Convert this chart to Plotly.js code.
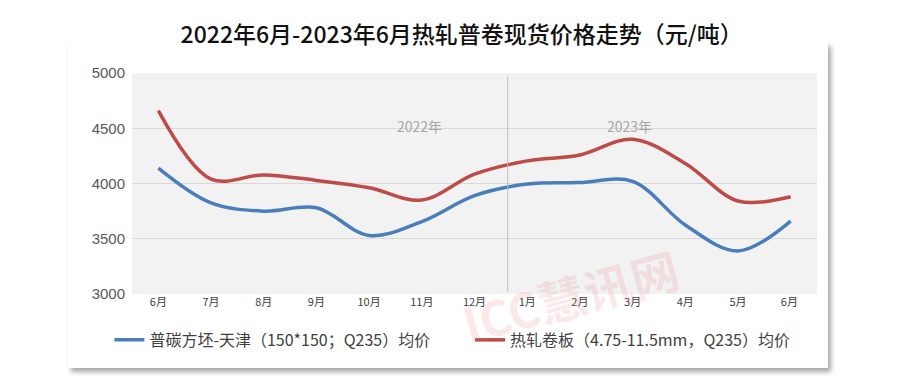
<!DOCTYPE html>
<html><head><meta charset="utf-8">
<script src="https://cdn.plot.ly/plotly-3.0.1.min.js"></script>
<style>
html,body{margin:0;padding:0;background:#fff;}
#wrap{position:relative;width:900px;height:385px;}
#box{position:absolute;left:68px;top:42px;width:760px;height:326px;background:#fff;box-shadow:3px 4px 5px rgba(0,0,0,0.35);}
#chart{position:absolute;left:0;top:0;width:900px;height:385px;}
</style></head>
<body><div id="wrap"><div id="box"></div><div id="chart"></div></div>
<script>
const months = ['6月','7月','8月','9月','10月','11月','12月','1月','2月','3月','4月','5月','6月 '];
const billetTianjin = [4140, 3825, 3750, 3780, 3530, 3655, 3890, 3995, 4008, 4020, 3625, 3390, 3660];
const hotRolledCoil = [4660, 4040, 4078, 4028, 3962, 3850, 4084, 4205, 4258, 4400, 4182, 3842, 3880];
const seriesNames = ['普碳方坯-天津（150*150；Q235）均价', '热轧卷板（4.75-11.5mm，Q235）均价'];
const yearLabels = ['2022年', '2023年'];
const font = '"Noto Sans CJK SC", "Noto Sans", sans-serif';

const traces = [
  {x: months, y: billetTianjin, name: seriesNames[0], type: 'scatter', mode: 'lines', legend: 'legend',
   line: {color: '#4A7EBB', width: 3.5, shape: 'spline', smoothing: 1}},
  {x: months, y: hotRolledCoil, name: seriesNames[1], type: 'scatter', mode: 'lines', legend: 'legend2',
   line: {color: '#BE4B48', width: 3.5, shape: 'spline', smoothing: 1}}
];

const legendFont = {family: font, size: 16, color: '#404040'};
const layout = {
  width: 900, height: 385,
  margin: {l: 132, r: 83, t: 73, b: 91},
  paper_bgcolor: 'rgba(0,0,0,0)',
  plot_bgcolor: '#F2F2F2',
  title: {text: '2022年6月-2023年6月热轧普卷现货价格走势（元/吨）', x: 0.513, xanchor: 'center', y: 0.91, yanchor: 'middle',
          font: {family: font, size: 23, color: '#111111', weight: 500}},
  xaxis: {type: 'category', range: [-0.5, 12.5], showgrid: false, zeroline: false, showline: false,
          ticks: '', tickfont: {family: font, size: 11, color: '#404040'}, fixedrange: true},
  yaxis: {range: [3000, 5000], dtick: 500, tick0: 3000, showgrid: true, gridcolor: '#D9D9D9', gridwidth: 1,
          zeroline: false, showline: false, ticks: '', ticklabelstandoff: 6,
          tickfont: {family: '"Liberation Sans", Arial, sans-serif', size: 15, color: '#595959'}, fixedrange: true},
  showlegend: true,
  legend: {orientation: 'h', x: -0.033, xanchor: 'left', y: -0.208, yanchor: 'middle',
           font: legendFont, bgcolor: 'rgba(0,0,0,0)'},
  legend2: {orientation: 'h', x: 0.4935, xanchor: 'left', y: -0.208, yanchor: 'middle',
           font: legendFont, bgcolor: 'rgba(0,0,0,0)'},
  shapes: [
    {type: 'line', xref: 'x', yref: 'paper', x0: 6.63, x1: 6.63, y0: 0.01, y1: 0.985,
     line: {color: '#BFBFBF', width: 1}}
  ],
  annotations: [
    {text: yearLabels[0], xref: 'x', yref: 'y', x: 4.95, y: 4520, showarrow: false,
     font: {family: font, size: 14, color: '#A6A6A6'}},
    {text: yearLabels[1], xref: 'x', yref: 'y', x: 8.95, y: 4520, showarrow: false,
     font: {family: font, size: 14, color: '#A6A6A6'}},
    {text: 'ICC慧讯网', xref: 'paper', yref: 'paper', x: 0.64, y: -0.3, showarrow: false, textangle: -15,
     font: {family: font, size: 48, color: 'rgba(230,120,120,0.16)', weight: 'bold'}}
  ]
};

Plotly.newPlot('chart', traces, layout, {displayModeBar: false, staticPlot: true});
</script></body></html>
